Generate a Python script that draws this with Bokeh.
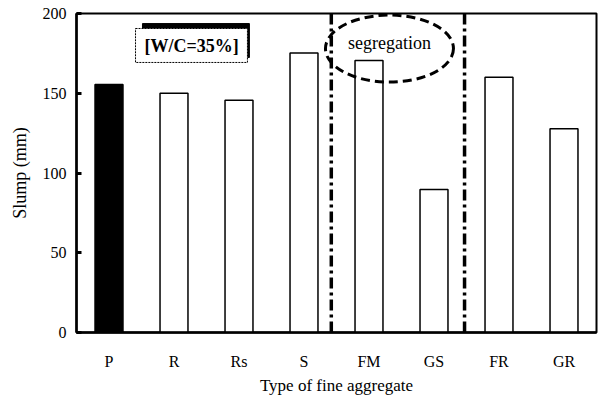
from bokeh.plotting import figure
from bokeh.models import ColumnDataSource, Span, FixedTicker
from bokeh.core.properties import value
from bokeh.embed import file_html
from bokeh.resources import INLINE

categories = ["P", "R", "Rs", "S", "FM", "GS", "FR", "GR"]
slump = [155.5, 150, 145.6, 175.3, 170.5, 89.7, 160, 127.7]
fills = ["black", "white", "white", "white", "white", "white", "white", "white"]
y_ticks = [0, 50, 100, 150, 200]

FONT = "Liberation Serif"

p = figure(x_range=categories, y_range=(0, 200), width=602, height=405,
           output_backend="svg", toolbar_location=None,
           min_border_left=76, min_border_right=6, min_border_top=13, min_border_bottom=73)

src = ColumnDataSource(dict(cat=categories, val=slump, fill=fills))
p.vbar(x="cat", top="val", width=0.43, source=src, fill_color="fill",
       line_color="black", line_width=1.5)

p.grid.visible = False
p.outline_line_color = "black"
p.outline_line_width = 2
p.background_fill_color = "white"
p.border_fill_color = "white"

# y axis
p.yaxis.ticker = FixedTicker(ticks=y_ticks)
p.yaxis.minor_tick_line_color = None
p.yaxis.major_tick_in = 5
p.yaxis.major_tick_out = 0
p.yaxis.major_tick_line_width = 3
p.yaxis.axis_line_width = 2.5
p.yaxis.major_label_text_font = FONT
p.yaxis.major_label_text_font_size = "16px"
p.yaxis.major_label_text_color = "black"
p.yaxis.major_label_standoff = 10
p.yaxis.axis_label = "Slump (mm)"
p.yaxis.axis_label_text_font = FONT
p.yaxis.axis_label_text_font_style = "normal"
p.yaxis.axis_label_text_font_size = "18px"
p.yaxis.axis_label_text_color = "black"
p.yaxis.axis_label_standoff = 10

# x axis
p.xaxis.major_tick_line_color = None
p.xaxis.minor_tick_line_color = None
p.xaxis.axis_line_width = 2.5
p.xaxis.major_label_text_font = FONT
p.xaxis.major_label_text_font_size = "16px"
p.xaxis.major_label_text_color = "black"
p.xaxis.major_label_standoff = 14
p.xaxis.axis_label = "Type of fine aggregate"
p.xaxis.axis_label_text_font = FONT
p.xaxis.axis_label_text_font_style = "normal"
p.xaxis.axis_label_text_font_size = "17px"
p.xaxis.axis_label_text_color = "black"
p.xaxis.axis_label_standoff = 3

# separator lines
for loc in (3.92, 5.97):
    p.add_layout(Span(location=loc, dimension="height", line_color="black",
                      line_width=3.5, line_dash="11 4 3 4"))

# segregation ellipse
p.ellipse(x=[4.815], y=[178], width=[128], height=[67], width_units="screen",
          height_units="screen", fill_color=None, line_color="black",
          line_width=3, line_dash="9 5")
p.text(x=[4.815], y=[181.5], text=["segregation"], text_font=value(FONT),
       text_font_size="18px", text_align="center", text_baseline="middle")

# W/C box with shadow
p.quad(left=[1.015], right=[2.66], top=[193.7], bottom=[172.4], fill_color="black", line_color="black")
p.quad(left=[0.908], right=[2.63], top=[190.6], bottom=[169.3], fill_color="white",
       line_color="black", line_width=1, line_dash="2 1")
p.text(x=[1.77], y=[179.5], text=["[W/C=35%]"], text_font=value(FONT),
       text_font_style="bold", text_font_size="18px", text_align="center", text_baseline="middle")

open("out.html", "w").write(file_html(p, INLINE))
